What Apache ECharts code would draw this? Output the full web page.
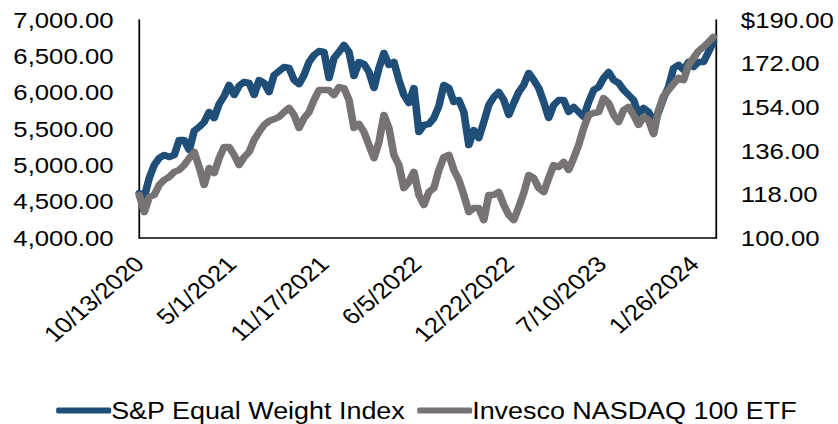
<!DOCTYPE html>
<html>
<head>
<meta charset="utf-8">
<script src="https://cdn.jsdelivr.net/npm/echarts@6/dist/echarts.min.js"></script>
<style>
  html, body { margin: 0; padding: 0; background: #fff; overflow: hidden; }
  /* The chart is laid out at 716px and widened to fill the 838px page */
  #chart { width: 716px; height: 424px; transform: scaleX(1.17039); transform-origin: 0 0; }
</style>
</head>
<body>
<div id="chart"></div>
<script>
// Calendar day offsets are counted from 10/13/2020; ticks every 200 days
const xTickLabels = ['10/13/2020', '5/1/2021', '11/17/2021', '6/5/2022', '12/22/2022', '7/10/2023', '1/26/2024'];
const lastDay = 1248;            // 3/14/2024
const sampleSpacingDays = 10.8;  // readings taken at an even spacing

const seriesNames = ['S&P Equal Weight Index', 'Invesco NASDAQ 100 ETF'];

// S&P 500 Equal Weight Index level (left axis)
const equalWeightValues = [
  4619, 4564, 4826, 5005, 5101, 5142, 5115, 5142, 5349, 5349,
  5211, 5473, 5528, 5596, 5734, 5651, 5844, 5954, 6106, 5968,
  6092, 6147, 6133, 5968, 6174, 6133, 6009, 6243, 6298, 6353,
  6339, 6174, 6119, 6243, 6422, 6518, 6573, 6560, 6202, 6477,
  6560, 6656, 6560, 6229, 6422, 6395, 6284, 6064, 6339, 6546,
  6381, 6422, 6174, 5968, 5858, 6064, 5459, 5555, 5569, 5651,
  5817, 6106, 6064, 5872, 5899, 5734, 5280, 5486, 5376, 5596,
  5830, 5940, 6009, 5899, 5693, 5858, 6009, 6106, 6271, 6174,
  6064, 5872, 5651, 5830, 5899, 5899, 5734, 5803, 5734, 5665,
  5872, 6037, 6078, 6202, 6284, 6174, 6133, 6037, 5968, 5899,
  5693, 5789, 5734, 5596, 5734, 5927, 6078, 6339, 6381, 6312,
  6422, 6353, 6422, 6422, 6560, 6697
];

// Invesco NASDAQ 100 ETF price in dollars (right axis)
const nasdaqEtfValues = [
  117.8, 110.7, 116.9, 117.8, 121.9, 124.0, 125.2, 127.3, 128.1, 130.1,
  133.0, 135.5, 129.3, 121.9, 128.9, 126.8, 133.0, 137.6, 137.6, 134.3,
  130.1, 133.4, 135.5, 140.5, 143.8, 146.7, 148.3, 149.1, 150.0, 152.0,
  153.7, 150.8, 145.4, 149.5, 152.0, 157.0, 161.1, 161.1, 161.1, 159.0,
  162.3, 161.9, 157.0, 145.4, 147.1, 143.8, 138.4, 133.0, 139.6, 150.8,
  145.4, 134.3, 130.1, 120.6, 123.1, 127.3, 117.8, 113.6, 119.0, 120.6,
  128.1, 133.4, 134.3, 128.1, 124.0, 117.8, 110.7, 112.4, 112.4, 107.4,
  117.8, 117.8, 119.0, 113.6, 109.5, 107.4, 112.8, 118.6, 126.0, 124.8,
  120.6, 119.0, 124.8, 130.1, 129.3, 131.4, 128.1, 133.0, 138.4, 145.4,
  150.8, 151.6, 152.0, 157.8, 155.7, 150.8, 147.9, 152.8, 154.1, 150.8,
  146.7, 150.0, 148.7, 142.9, 152.8, 158.6, 161.1, 163.6, 166.1, 165.2,
  171.4, 174.3, 177.2, 178.9, 180.9, 183.0
];

const leftAxis = { min: 4000, max: 7000, step: 500 };
const rightAxis = { min: 100, max: 190, step: 18 };

const colors = ['#1F4E79', '#787373'];
const fontFamily = '"Liberation Sans", Arial, sans-serif';

function withDays(values) {
  return values.map((v, i) => [i * sampleSpacingDays, v]);
}

function formatThousands(v) {
  const parts = v.toFixed(2).split('.');
  parts[0] = parts[0].replace(/\B(?=(\d{3})+(?!\d))/g, ',');
  return parts.join('.');
}

const chart = echarts.init(document.getElementById('chart'), null, { renderer: 'svg' });

const axisLine = { show: true, lineStyle: { color: '#000', width: 1.5 } };
const labelText = { color: '#000', fontSize: 22, fontFamily: fontFamily };

chart.setOption({
  animation: false,
  backgroundColor: '#fff',
  grid: { left: 119, right: 104, top: 20, bottom: 186, containLabel: false },
  legend: {
    data: seriesNames,
    left: 43,
    top: 394,
    itemWidth: 47,
    itemHeight: 6,
    itemGap: 10,
    icon: 'roundRect',
    textStyle: { color: '#000', fontSize: 23, fontFamily: fontFamily, padding: [0, 0, 0, -5] }
  },
  xAxis: {
    type: 'value',
    min: 0,
    max: lastDay,
    interval: 200,
    splitLine: { show: false },
    axisTick: { show: false },
    axisLine: axisLine,
    axisLabel: Object.assign({}, labelText, {
      rotate: 45,
      margin: 22,
      showMaxLabel: false,
      formatter: v => (v % 200 === 0 && xTickLabels[v / 200]) ? xTickLabels[v / 200] : ''
    })
  },
  yAxis: [
    {
      type: 'value',
      min: leftAxis.min,
      max: leftAxis.max,
      interval: leftAxis.step,
      splitLine: { show: false },
      axisTick: { show: false },
      axisLine: axisLine,
      axisLabel: Object.assign({}, labelText, { margin: 22, formatter: v => formatThousands(v) })
    },
    {
      type: 'value',
      position: 'right',
      min: rightAxis.min,
      max: rightAxis.max,
      interval: rightAxis.step,
      splitLine: { show: false },
      axisTick: { show: false },
      axisLine: axisLine,
      axisLabel: Object.assign({}, labelText, {
        margin: 21,
        formatter: v => (v === rightAxis.max ? '$' : '') + v.toFixed(2)
      })
    }
  ],
  series: [
    {
      name: seriesNames[0],
      type: 'line',
      yAxisIndex: 0,
      data: withDays(equalWeightValues),
      showSymbol: false,
      color: colors[0],
      lineStyle: { color: colors[0], width: 6.5, cap: 'round', join: 'round' }
    },
    {
      name: seriesNames[1],
      type: 'line',
      yAxisIndex: 1,
      data: withDays(nasdaqEtfValues),
      showSymbol: false,
      color: colors[1],
      lineStyle: { color: colors[1], width: 6.5, cap: 'round', join: 'round' }
    }
  ]
});
</script>
</body>
</html>
